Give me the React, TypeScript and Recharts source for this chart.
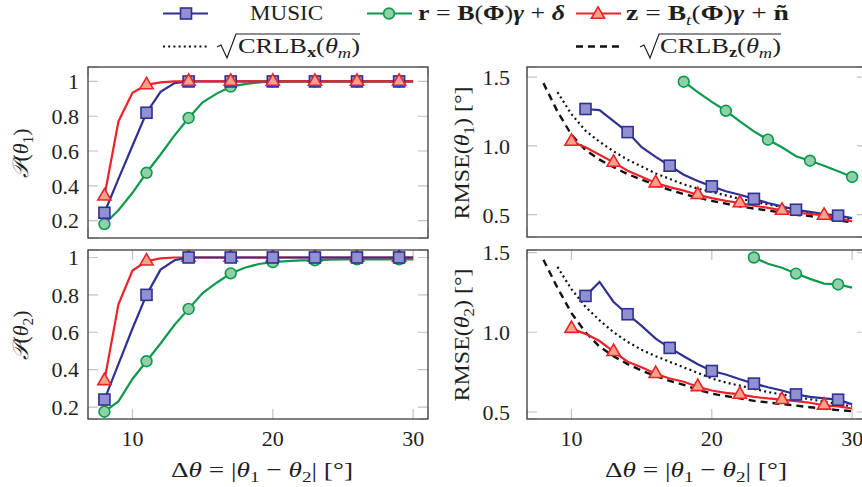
import React from 'react';
import { LineChart, Line, XAxis, YAxis, CartesianGrid } from 'recharts';

// Δθ grid (degrees); markers sit on every third sample of each curve
const deltaTheta = [8, 9, 10, 11, 12, 13, 14, 15, 16, 17, 18, 19, 20, 21, 22, 23, 24, 25, 26, 27, 28, 29, 30];
const xTicks = [10, 20, 30];
const probTicks = [0.2, 0.4, 0.6, 0.8, 1];
const rmseTicks = [0.5, 1.0, 1.5];

// P(θ1)
const p1Music = [0.245, 0.44, 0.63, 0.82, 0.94, 0.99, 1, 1, 1, 1, 1, 1, 1, 1, 1, 1, 1, 1, 1, 1, 1, 1, 1];
const p1R = [0.18, 0.26, 0.36, 0.475, 0.58, 0.69, 0.79, 0.88, 0.93, 0.97, 0.985, 0.995, 1, 1, 1, 1, 1, 1, 1, 1, 1, 1, 1];
const p1Z = [0.34, 0.77, 0.935, 0.98, 0.995, 1, 1, 1, 1, 1, 1, 1, 1, 1, 1, 1, 1, 1, 1, 1, 1, 1, 1];

// P(θ2)
const p2Music = [0.24, 0.43, 0.62, 0.8, 0.935, 0.985, 1, 1, 1, 1, 1, 1, 1, 1, 1, 1, 1, 1, 1, 1, 1, 1, 1];
const p2R = [0.175, 0.23, 0.35, 0.445, 0.54, 0.64, 0.725, 0.81, 0.865, 0.915, 0.945, 0.965, 0.975, 0.98, 0.985, 0.985, 0.988, 0.99, 0.99, 0.99, 0.99, 0.99, 0.99];
const p2Z = [0.34, 0.75, 0.93, 0.98, 0.995, 1, 1, 1, 1, 1, 1, 1, 1, 1, 1, 1, 1, 1, 1, 1, 1, 1, 1];

// RMSE(θ1)
const rmse1Music = [null, null, null, 1.268, 1.26, 1.18, 1.1, 0.99, 0.92, 0.856, 0.79, 0.745, 0.706, 0.67, 0.645, 0.615, 0.585, 0.56, 0.536, 0.52, 0.505, 0.493, 0.475];
const rmse1R = [null, null, null, null, null, null, null, null, null, null, 1.466, 1.39, 1.32, 1.255, 1.178, 1.105, 1.045, 0.99, 0.925, 0.892, 0.855, 0.815, 0.774];
const rmse1Z = [null, null, 1.032, 0.99, 0.935, 0.88, 0.82, 0.775, 0.73, 0.7, 0.675, 0.645, 0.62, 0.6, 0.585, 0.565, 0.55, 0.531, 0.515, 0.505, 0.495, 0.475, 0.451];
const crlbX1 = [null, 1.39, 1.23, 1.11, 1.03, 0.96, 0.9, 0.85, 0.8, 0.76, 0.72, 0.69, 0.665, 0.64, 0.615, 0.595, 0.575, 0.555, 0.535, 0.515, 0.5, 0.48, 0.465];
const crlbZ1 = [1.456, 1.25, 1.08, 0.97, 0.9, 0.845, 0.795, 0.755, 0.715, 0.68, 0.65, 0.625, 0.6, 0.58, 0.56, 0.545, 0.53, 0.515, 0.5, 0.49, 0.475, 0.46, 0.445];

// RMSE(θ2)
const rmse2Music = [null, null, null, 1.228, 1.316, 1.19, 1.113, 1.04, 0.96, 0.902, 0.85, 0.8, 0.757, 0.735, 0.705, 0.678, 0.655, 0.635, 0.61, 0.595, 0.585, 0.577, 0.548];
const rmse2R = [null, null, null, null, null, null, null, null, null, null, null, null, null, null, null, 1.469, 1.43, 1.405, 1.368, 1.335, 1.305, 1.3, 1.28];
const rmse2Z = [null, null, 1.023, 0.99, 0.945, 0.878, 0.815, 0.78, 0.74, 0.71, 0.69, 0.658, 0.635, 0.62, 0.61, 0.595, 0.585, 0.577, 0.568, 0.558, 0.542, 0.535, 0.522];
const crlbX2 = [null, 1.41, 1.27, 1.16, 1.075, 1.0, 0.94, 0.89, 0.85, 0.815, 0.78, 0.745, 0.71, 0.685, 0.665, 0.645, 0.625, 0.61, 0.595, 0.58, 0.565, 0.55, 0.535];
const crlbZ2 = [1.455, 1.28, 1.12, 1.0, 0.91, 0.85, 0.8, 0.76, 0.725, 0.695, 0.67, 0.64, 0.615, 0.6, 0.585, 0.57, 0.56, 0.55, 0.54, 0.53, 0.52, 0.512, 0.505];

const FONT = '"Liberation Serif", "DejaVu Serif", serif';
const TXT = '#1e1e1e';
const BLUE = '#2e3192';
const BLUE_FILL = '#9190d0';
const GREEN = '#0b9a4c';
const GREEN_FILL = '#8fd0a8';
const RED = '#ee2229';
const RED_FILL = '#f5a48b';
const TICK_GRAY = '#c2c2c2';
const TICK_LEN = 10;
const X_DOMAIN: [number, number] = [6.83, 31.06];

type Marker = 'square' | 'circle' | 'triangle';
type Series = {
  key: string;
  values: (number | null)[];
  color: string;
  fill?: string;
  marker?: Marker;
  dash?: string;
  width: number;
};

const drawMarker = (kind: Marker, cx: number, cy: number, color: string, fill: string, key?: string) => {
  if (kind === 'square') {
    return <rect key={key} x={cx - 5.5} y={cy - 5.5} width={11} height={11} fill={fill} stroke={color} strokeWidth={1.6} />;
  }
  if (kind === 'circle') {
    return <circle key={key} cx={cx} cy={cy} r={5.4} fill={fill} stroke={color} strokeWidth={1.6} />;
  }
  const r = 7.6;
  const pts = `${cx},${cy - r} ${cx - r * 0.866},${cy + r / 2} ${cx + r * 0.866},${cy + r / 2}`;
  return <polygon key={key} points={pts} fill={fill} stroke={color} strokeWidth={1.6} strokeLinejoin="miter" />;
};

const markerDot = (s: Series) => {
  const start = deltaTheta[s.values.findIndex((v) => v != null)];
  return (props: any) => {
    const { cx, cy, payload, index } = props;
    const key = `${s.key}-${index}`;
    if (cx == null || cy == null || payload[s.key] == null || (payload.x - start) % 3 !== 0) {
      return <g key={key} />;
    }
    return drawMarker(s.marker as Marker, cx, cy, s.color, s.fill as string, key);
  };
};

type Box = { left: number; top: number; w: number; h: number };

const YW = 70;
const MT = 16;
const MR = 6;
const XH = 40;

function Panel(props: {
  box: Box;
  yDomain: [number, number];
  yTicks: number[];
  yFmt: (v: number) => string;
  yGap: number;
  series: Series[];
  xLabels: boolean;
}) {
  const { box, series } = props;
  const rows = deltaTheta.map((x, i) => {
    const row: Record<string, number | null> = { x };
    series.forEach((s) => {
      row[s.key] = s.values[i];
    });
    return row;
  });
  const tickFont = { fill: TXT, fontSize: 22, fontFamily: FONT };
  return (
    <div style={{ position: 'absolute', left: box.left - YW, top: box.top - MT }}>
      <LineChart
        width={YW + box.w + MR}
        height={MT + box.h + XH}
        data={rows}
        margin={{ top: MT, right: MR, left: 0, bottom: 0 }}
      >
        <CartesianGrid
          horizontal={false}
          stroke={TICK_GRAY}
          strokeWidth={1.2}
          strokeDasharray={`${TICK_LEN} ${box.h - 2 * TICK_LEN} ${TICK_LEN}`}
        />
        <CartesianGrid
          vertical={false}
          stroke={TICK_GRAY}
          strokeWidth={1.2}
          strokeDasharray={`${TICK_LEN} ${box.w - 2 * TICK_LEN} ${TICK_LEN}`}
        />
        <XAxis
          dataKey="x"
          type="number"
          domain={X_DOMAIN}
          ticks={xTicks}
          allowDataOverflow
          interval={0}
          height={XH}
          axisLine={false}
          tickLine={false}
          tickSize={0}
          tickMargin={11}
          tick={props.xLabels ? tickFont : false}
        />
        <YAxis
          type="number"
          domain={props.yDomain}
          ticks={props.yTicks}
          allowDataOverflow
          interval={0}
          width={YW}
          axisLine={false}
          tickLine={false}
          tickSize={0}
          tickMargin={props.yGap}
          tick={tickFont}
          tickFormatter={props.yFmt}
        />
        {series.map((s) => (
          <Line
            key={s.key}
            dataKey={s.key}
            type="linear"
            stroke={s.color}
            strokeWidth={s.width}
            strokeDasharray={s.dash}
            dot={s.marker ? markerDot(s) : false}
            activeDot={false}
            connectNulls={false}
            isAnimationActive={false}
          />
        ))}
      </LineChart>
    </div>
  );
}

const boxTL: Box = { left: 88, top: 67, w: 340, h: 171 };
const boxBL: Box = { left: 88, top: 250, w: 340, h: 169 };
const boxTR: Box = { left: 527, top: 67, w: 340, h: 170 };
const boxBR: Box = { left: 527, top: 250, w: 340, h: 169 };

const probFmt = (v: number) => (v === 1 ? '1' : v.toFixed(1));
const rmseFmt = (v: number) => v.toFixed(1);

const music = (values: (number | null)[]): Series => ({ key: 'music', values, color: BLUE, fill: BLUE_FILL, marker: 'square', width: 2.2 });
const rModel = (values: (number | null)[]): Series => ({ key: 'r', values, color: GREEN, fill: GREEN_FILL, marker: 'circle', width: 2.2 });
const zModel = (values: (number | null)[]): Series => ({ key: 'z', values, color: RED, fill: RED_FILL, marker: 'triangle', width: 2.2 });
const crlbX = (values: (number | null)[]): Series => ({ key: 'crlbx', values, color: '#111', dash: '2 3.2', width: 2.2 });
const crlbZ = (values: (number | null)[]): Series => ({ key: 'crlbz', values, color: '#111', dash: '7 5', width: 2.4 });

const Sub = ({ children, italic }: { children: React.ReactNode; italic?: boolean }) => (
  <tspan dy={5} fontSize="0.7em" fontStyle={italic ? 'italic' : 'normal'}>{children}</tspan>
);

const PTitle = ({ x, y, idx }: { x: number; y: number; idx: string }) => (
  <text transform={`translate(${x},${y}) rotate(-90)`} textAnchor="middle" fontSize={22} fontFamily={FONT} fill={TXT}>
    <tspan fontStyle="italic">𝒫</tspan>
    <tspan>(</tspan>
    <tspan fontStyle="italic">θ</tspan>
    <Sub>{idx}</Sub>
    <tspan dy={-5}>)</tspan>
  </text>
);

const RmseTitle = ({ x, y, idx }: { x: number; y: number; idx: string }) => (
  <text transform={`translate(${x},${y}) rotate(-90)`} textAnchor="middle" fontSize={22} fontFamily={FONT} fill={TXT} textLength={133} lengthAdjust="spacingAndGlyphs">
    <tspan>RMSE(</tspan>
    <tspan fontStyle="italic">θ</tspan>
    <Sub>{idx}</Sub>
    <tspan dy={-5}>) [°]</tspan>
  </text>
);

const XTitle = ({ x, y }: { x: number; y: number }) => (
  <text x={x} y={y} textAnchor="middle" fontSize={22} fontFamily={FONT} fill={TXT} textLength={182} lengthAdjust="spacingAndGlyphs">
    <tspan>Δ</tspan>
    <tspan fontStyle="italic">θ</tspan>
    <tspan> = |</tspan>
    <tspan fontStyle="italic">θ</tspan>
    <Sub>1</Sub>
    <tspan dy={-5}> − </tspan>
    <tspan fontStyle="italic">θ</tspan>
    <Sub>2</Sub>
    <tspan dy={-5}>| [°]</tspan>
  </text>
);

const Legend = () => {
  const y1 = 13.5;
  const y2 = 46.5;
  const base1 = 20;
  return (
    <g fontFamily={FONT} fill={TXT} fontSize={22}>
      <line x1={163} x2={208} y1={y1} y2={y1} stroke={BLUE} strokeWidth={2.2} />
      {drawMarker('square', 186, y1, BLUE, BLUE_FILL)}
      <text x={250} y={base1} textLength={73} lengthAdjust="spacingAndGlyphs">MUSIC</text>

      <line x1={367} x2={412} y1={y1} y2={y1} stroke={GREEN} strokeWidth={2.2} />
      {drawMarker('circle', 389, y1, GREEN, GREEN_FILL)}
      <text x={418} y={base1} textLength={147} lengthAdjust="spacingAndGlyphs">
        <tspan fontWeight="bold">r</tspan>
        <tspan> = </tspan>
        <tspan fontWeight="bold">B</tspan>
        <tspan>(</tspan>
        <tspan fontWeight="bold">Φ</tspan>
        <tspan>)</tspan>
        <tspan fontWeight="bold" fontStyle="italic">γ</tspan>
        <tspan> + </tspan>
        <tspan fontWeight="bold" fontStyle="italic">δ</tspan>
      </text>

      <line x1={576} x2={621} y1={y1} y2={y1} stroke={RED} strokeWidth={2.2} />
      {drawMarker('triangle', 598, y1 + 1, RED, RED_FILL)}
      <text x={626} y={base1} textLength={163} lengthAdjust="spacingAndGlyphs">
        <tspan fontWeight="bold">z</tspan>
        <tspan> = </tspan>
        <tspan fontWeight="bold">B</tspan>
        <Sub italic>t</Sub>
        <tspan dy={-5}>(</tspan>
        <tspan fontWeight="bold">Φ</tspan>
        <tspan>)</tspan>
        <tspan fontWeight="bold" fontStyle="italic">γ</tspan>
        <tspan> + </tspan>
        <tspan fontWeight="bold">ñ</tspan>
      </text>

      <line x1={163} x2={207} y1={y2} y2={y2} stroke="#111" strokeWidth={2.2} strokeDasharray="2 3.2" />
      <polyline points="217,47 221,45 227,58 236,34 360,34" fill="none" stroke={TXT} strokeWidth={1.2} />
      <text x={238} y={53} textLength={122} lengthAdjust="spacingAndGlyphs">
        <tspan>CRLB</tspan>
        <tspan dy={4} fontSize="0.7em" fontWeight="bold">x</tspan>
        <tspan dy={-4}>(</tspan>
        <tspan fontStyle="italic">θ</tspan>
        <Sub italic>m</Sub>
        <tspan dy={-5}>)</tspan>
      </text>

      <line x1={576} x2={619} y1={y2} y2={y2} stroke="#111" strokeWidth={2.4} strokeDasharray="7 5" />
      <polyline points="640,47 644,45 650,58 659,34 781,34" fill="none" stroke={TXT} strokeWidth={1.2} />
      <text x={660} y={53} textLength={121} lengthAdjust="spacingAndGlyphs">
        <tspan>CRLB</tspan>
        <tspan dy={4} fontSize="0.7em" fontWeight="bold">z</tspan>
        <tspan dy={-4}>(</tspan>
        <tspan fontStyle="italic">θ</tspan>
        <Sub italic>m</Sub>
        <tspan dy={-5}>)</tspan>
      </text>
    </g>
  );
};

export default function App() {
  const frame = (b: Box) => (
    <rect x={b.left} y={b.top} width={b.w} height={b.h} fill="none" stroke="#3c3c3c" strokeWidth={1.3} />
  );
  return (
    <div style={{ position: 'absolute', left: 0, top: 0, width: 862, height: 487, overflow: 'hidden', background: '#fff' }}>
      <Panel box={boxTL} yDomain={[0.1, 1.083]} yTicks={probTicks} yFmt={probFmt} yGap={9} xLabels={false}
        series={[rModel(p1R), music(p1Music), zModel(p1Z)]} />
      <Panel box={boxBL} yDomain={[0.136, 1.04]} yTicks={probTicks} yFmt={probFmt} yGap={9} xLabels
        series={[rModel(p2R), zModel(p2Z), music(p2Music)]} />
      <Panel box={boxTR} yDomain={[0.338, 1.573]} yTicks={rmseTicks} yFmt={rmseFmt} yGap={17} xLabels={false}
        series={[crlbX(crlbX1), crlbZ(crlbZ1), rModel(rmse1R), music(rmse1Music), zModel(rmse1Z)]} />
      <Panel box={boxBR} yDomain={[0.456, 1.516]} yTicks={rmseTicks} yFmt={rmseFmt} yGap={17} xLabels
        series={[crlbX(crlbX2), crlbZ(crlbZ2), rModel(rmse2R), music(rmse2Music), zModel(rmse2Z)]} />
      <svg width={862} height={487} style={{ position: 'absolute', left: 0, top: 0, pointerEvents: 'none' }}>
        {frame(boxTL)}
        {frame(boxBL)}
        {frame(boxTR)}
        {frame(boxBR)}
        <PTitle x={28} y={153} idx="1" />
        <PTitle x={28} y={335} idx="2" />
        <RmseTitle x={469} y={153} idx="1" />
        <RmseTitle x={469} y={335} idx="2" />
        <XTitle x={262} y={477} />
        <XTitle x={696} y={477} />
        <Legend />
      </svg>
    </div>
  );
}
